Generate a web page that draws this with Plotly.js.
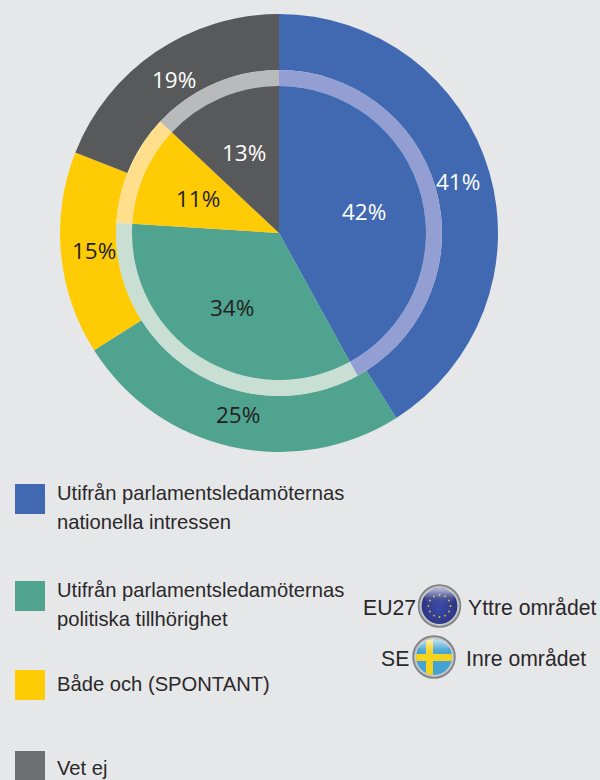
<!DOCTYPE html>
<html><head><meta charset="utf-8">
<script src="https://cdn.plot.ly/plotly-3.0.1.min.js"></script>
<style>html,body{margin:0;padding:0;background:#e6e7e9}</style></head>
<body><div id="c" style="width:600px;height:780px"></div>
<script>
const categories=["Utifrån parlamentsledamöternas<br>nationella intressen","Utifrån parlamentsledamöternas<br>politiska tillhörighet","Både och (SPONTANT)","Vet ej"];
const outerEU27=[41,25,15,19];
const innerSE=[42,34,11,13];
const colors=["#4169b2","#4fa38f","#ffcb05","#58595b"];
const ringColors=["#939fd3","#c9dfd3","#ffdf8c","#b9babc"];
const legendColors=["#4169b2","#4fa38f","#ffcb05","#6d6e70"];
const textColors=["#ffffff","#231f20","#231f20","#ffffff"];
const W=600,H=780,cx=279,cy=233;
const dom=r=>({x:[(cx-r)/W,(cx+r)/W],y:[1-(cy+r)/H,1-(cy-r)/H]});
const base={type:"pie",sort:false,direction:"clockwise",rotation:0,labels:categories,hoverinfo:"label+percent",showlegend:false,textinfo:"none"};
const data=[
 {...base,values:outerEU27,hole:163/219,domain:dom(219),marker:{colors:colors,line:{width:0}}},
 {...base,values:innerSE,hole:147/163,domain:dom(163),marker:{colors:ringColors,line:{width:0}}},
 {...base,values:innerSE,domain:dom(147),marker:{colors:colors,line:{width:0}}}
];
const swatchY=[499,596,685,766];
const textY=[493,590,684,768];
const legFont={family:"'Liberation Sans'",size:20.2,color:"#2b2829"};
const sideFont={family:"'Liberation Sans'",size:21.2,color:"#2b2829"};
const shapes=[],annotations=[];
const put=(x,yy,t,anchor,font)=>annotations.push({xref:"paper",yref:"paper",x:x/W,y:1-yy/H,text:t,showarrow:false,xanchor:anchor,yanchor:"middle",align:"left",font});
categories.forEach((c,i)=>{
 shapes.push({type:"rect",xref:"paper",yref:"paper",x0:15/W,x1:45/W,y0:1-(swatchY[i]+15)/H,y1:1-(swatchY[i]-15)/H,fillcolor:legendColors[i],line:{width:0}});
 c.split("<br>").forEach((t,k)=>put(55,textY[i]+k*29,t,"left",legFont));
});
put(418,607,"EU27","right",sideFont);put(466,607,"Yttre området","left",sideFont);
put(411,658,"SE","right",sideFont);put(464,658,"Inre området","left",sideFont);
// percentage labels, placed at each slice's mid-angle from the data
function slices(vals,r){
 const tot=vals.reduce((a,b)=>a+b,0);let cum=0;
 vals.forEach((v,i)=>{
  const t=(cum+v/2)/tot*2*Math.PI;cum+=v;
  annotations.push({xref:"paper",yref:"paper",x:(cx+r*Math.sin(t))/W,y:1-(cy-r*Math.cos(t))/H,text:v+"%",showarrow:false,xanchor:"center",yanchor:"middle",font:{family:"'Open Sans'",size:22.5,color:textColors[i]}});
 });
}
slices(outerEU27,186);
slices(innerSE,88);
function svg(inner){return "data:image/svg+xml;utf8,"+encodeURIComponent('<svg xmlns="http://www.w3.org/2000/svg" width="44" height="44" viewBox="0 0 44 44"><defs><radialGradient id="r" cx="50%" cy="50%" r="50%"><stop offset="0.82" stop-color="#f2f2f2"/><stop offset="1" stop-color="#8a8c8e"/></radialGradient><radialGradient id="b" cx="50%" cy="55%" r="50%"><stop offset="0" stop-color="#3c4aa8"/><stop offset="1" stop-color="#2a3279"/></radialGradient><linearGradient id="g" x1="0" y1="0" x2="0" y2="1"><stop offset="0" stop-color="#fff" stop-opacity=".7"/><stop offset=".6" stop-color="#fff" stop-opacity=".08"/><stop offset="1" stop-color="#fff" stop-opacity="0"/></linearGradient><clipPath id="c"><circle cx="22" cy="22" r="18"/></clipPath></defs><circle cx="22" cy="22" r="21" fill="url(#r)" stroke="#808285" stroke-width="1.5"/><g clip-path="url(#c)">'+inner+'</g><ellipse cx="22" cy="13" rx="15" ry="9" fill="url(#g)"/></svg>');}
const stars=[0,30,60,90,120,150,180,210,240,270,300,330].map(a=>{const t=a*Math.PI/180;return '<circle cx="'+(22+11*Math.sin(t))+'" cy="'+(22-11*Math.cos(t))+'" r="0.9" fill="#d8c23a"/>';}).join("");
const euIcon=svg('<rect width="44" height="44" fill="url(#b)"/>'+stars);
const seIcon=svg('<rect width="44" height="44" fill="#45a3d3"/><rect x="14" width="7" height="44" fill="#f5d21c"/><rect y="19" width="44" height="7" fill="#f5d21c"/>');
const images=[
 {source:euIcon,xref:"paper",yref:"paper",x:439.5/W,y:1-606/H,sizex:44/W,sizey:44/H,xanchor:"center",yanchor:"middle",sizing:"stretch",layer:"above"},
 {source:seIcon,xref:"paper",yref:"paper",x:434/W,y:1-657/H,sizex:44/W,sizey:44/H,xanchor:"center",yanchor:"middle",sizing:"stretch",layer:"above"}
];
Plotly.newPlot("c",data,{width:W,height:H,margin:{l:0,r:0,t:0,b:0},paper_bgcolor:"#e6e7e9",plot_bgcolor:"#e6e7e9",shapes,annotations,images},{displayModeBar:false,staticPlot:true});
</script></body></html>
